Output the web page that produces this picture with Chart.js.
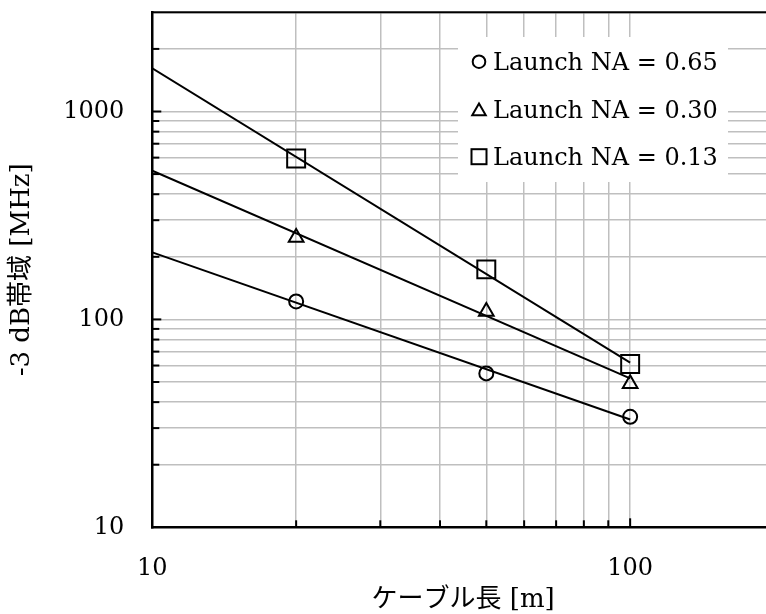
<!DOCTYPE html>
<html>
<head>
<meta charset="utf-8">
<script src="https://cdn.jsdelivr.net/npm/chart.js@4.4.1/dist/chart.umd.min.js"></script>
<style>
  html, body { margin: 0; padding: 0; background: #fff; overflow: hidden; }
  #wrap { width: 774px; height: 614px; }
</style>
</head>
<body>
<div id="wrap"><canvas id="c" width="774" height="614"></canvas></div>
<script>
// ---- data ----
const lengths = [20, 50, 100];
const bw065 = [122, 55, 34];
const bw030 = [248, 109, 49];
const bw013 = [594, 174, 61];
const fitX = [10, 100];
const fit065 = [210, 33];
const fit030 = [519, 52];
const fit013 = [1612, 62];
const seriesLabels = ['Launch NA = 0.65', 'Launch NA = 0.30', 'Launch NA = 0.13'];
const xTickValues = [10, 20, 30, 40, 50, 60, 70, 80, 90, 100, 200];
const xTickLabels = ['10', '', '', '', '', '', '', '', '', '100', ''];
const yTickValues = [10, 20, 30, 40, 50, 60, 70, 80, 90, 100, 200, 300, 400, 500, 600, 700, 800, 900, 1000, 2000, 3000];
const yTickLabels = ['10', '', '', '', '', '', '', '', '', '100', '', '', '', '', '', '', '', '', '1000', '', ''];
const xTitle = 'ケーブル長 [m]';
const yTitle = '-3 dB帯域 [MHz]';

const FONT = '"DejaVu Serif", "Noto Sans CJK JP", serif';
const pts = (xs, ys) => xs.map((x, i) => ({ x: x, y: ys[i] }));
const styles = ['circle', 'triangle', 'rect'];
const radii = [7, 8.5, 12.7];

const markerSets = [bw065, bw030, bw013];
const fitSets = [fit065, fit030, fit013];

const datasets = [];
fitSets.forEach((f, i) => {
  datasets.push({
    label: 'fit ' + seriesLabels[i],
    data: pts(fitX, f),
    showLine: true,
    borderColor: '#000',
    borderWidth: 2,
    pointRadius: 0,
    fill: false
  });
});
markerSets.forEach((m, i) => {
  datasets.push({
    label: seriesLabels[i],
    data: pts(lengths, m),
    showLine: false,
    pointStyle: styles[i],
    pointRadius: radii[i],
    pointBorderWidth: 2,
    borderColor: '#000',
    backgroundColor: 'rgba(0,0,0,0)'
  });
});

const majorVals = [10, 100, 1000];

const frame = {
  id: 'frame',
  beforeDatasetsDraw(chart) {
    const ctx = chart.ctx;
    const bx = 458, by = 37, bw = 270, bh = 145;
    ctx.save();
    ctx.fillStyle = '#fff';
    ctx.fillRect(bx, by, bw, bh);
    const rows = [61.7, 109.3, 156.7];
    const mx = 479;
    ctx.strokeStyle = '#000';
    ctx.lineWidth = 2;
    ctx.beginPath(); ctx.arc(mx, rows[0], 6.3, 0, Math.PI * 2); ctx.stroke();
    const tr = 7.8, ty = rows[1] + tr / 4;
    ctx.beginPath();
    ctx.moveTo(mx, ty - tr);
    ctx.lineTo(mx + tr * Math.sin(2 * Math.PI / 3), ty - tr * Math.cos(2 * Math.PI / 3));
    ctx.lineTo(mx + tr * Math.sin(4 * Math.PI / 3), ty - tr * Math.cos(4 * Math.PI / 3));
    ctx.closePath(); ctx.stroke();
    ctx.strokeRect(mx - 7.5, rows[2] - 7.5, 15, 15);
    ctx.fillStyle = '#000';
    ctx.font = '24px ' + FONT;
    ctx.textAlign = 'left';
    ctx.textBaseline = 'alphabetic';
    seriesLabels.forEach((t, i) => ctx.fillText(t, 493, rows[i] + 8.7));
    ctx.restore();
  },
  afterDraw(chart) {
    const ctx = chart.ctx;
    const ca = chart.chartArea;
    const xs = chart.scales.x, ys = chart.scales.y;
    ctx.save();
    ctx.strokeStyle = '#000';
    ctx.lineWidth = 2;
    ctx.beginPath(); ctx.moveTo(ca.left, ca.top); ctx.lineTo(ca.right, ca.top); ctx.stroke();
    yTickValues.forEach(v => {
      if (v === 10 || v === 3000) return;
      const p = ys.getPixelForValue(v);
      const len = majorVals.includes(v) ? 9 : 7;
      ctx.beginPath(); ctx.moveTo(ca.left, p); ctx.lineTo(ca.left + len, p); ctx.stroke();
    });
    xTickValues.forEach(v => {
      if (v === 10) return;
      const p = xs.getPixelForValue(v);
      const len = majorVals.includes(v) ? 9 : 7;
      ctx.beginPath(); ctx.moveTo(p, ca.bottom); ctx.lineTo(p, ca.bottom - len); ctx.stroke();
    });
    ctx.restore();
  }
};

new Chart(document.getElementById('c'), {
  type: 'scatter',
  data: { datasets: datasets },
  options: {
    responsive: false,
    animation: false,
    layout: { autoPadding: false, padding: { top: 12.3, right: 0, bottom: 0, left: 0 } },
    plugins: { legend: { display: false }, tooltip: { enabled: false } },
    scales: {
      x: {
        type: 'logarithmic',
        min: 10, max: 200,
        afterBuildTicks: s => { s.ticks = xTickValues.map(v => ({ value: v })); },
        afterFit: s => { s.height = 86.7; s.paddingLeft = 0; s.paddingRight = 0; },
        ticks: {
          autoSkip: false, maxRotation: 0, padding: 27,
          color: '#000', font: { family: FONT, size: 24 },
          callback: (v, i) => xTickLabels[i]
        },
        grid: {
          drawTicks: false,
          color: c => (c.tick && c.tick.value === 10) ? 'rgba(0,0,0,0)' : '#bfbfbf',
          lineWidth: 1.5
        },
        border: { display: true, color: '#000', width: 2.5 },
        title: {
          display: true, text: xTitle, color: '#000',
          font: { family: FONT, size: 26 }, padding: { top: 0, bottom: -2 }
        }
      },
      y: {
        type: 'logarithmic',
        min: 10, max: 3000,
        afterBuildTicks: s => { s.ticks = yTickValues.map(v => ({ value: v })); },
        afterFit: s => { s.width = 152.3; s.paddingTop = 0; s.paddingBottom = 0; },
        ticks: {
          autoSkip: false, padding: 28,
          color: '#000', font: { family: FONT, size: 24 },
          callback: (v, i) => yTickLabels[i]
        },
        grid: {
          drawTicks: false,
          color: c => (c.tick && c.tick.value === 10) ? 'rgba(0,0,0,0)' : '#bfbfbf',
          lineWidth: 1.5
        },
        border: { display: true, color: '#000', width: 2.5 },
        title: {
          display: true, text: yTitle, color: '#000',
          font: { family: FONT, size: 26 }, padding: { top: 7, bottom: 0 }
        }
      }
    }
  },
  plugins: [frame]
});
</script>
</body>
</html>
